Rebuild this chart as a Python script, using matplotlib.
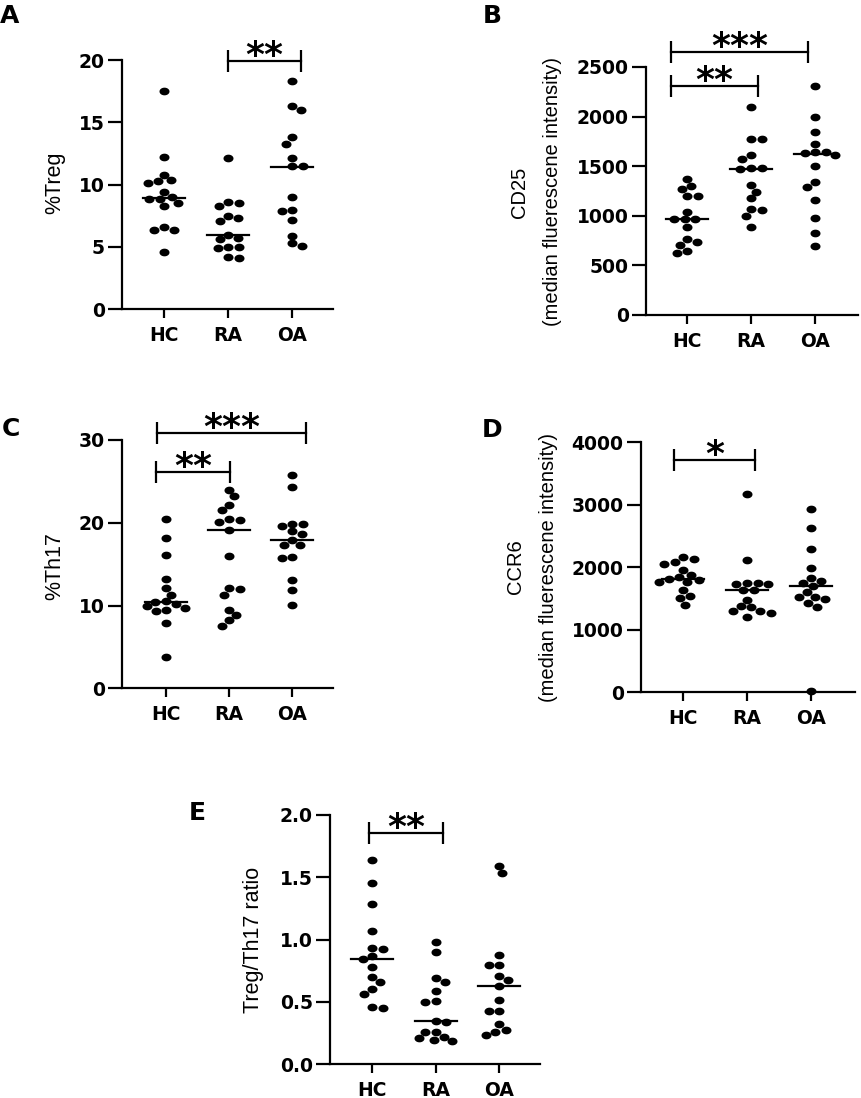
import numpy as np
import matplotlib
matplotlib.use('Agg')
import matplotlib.pyplot as plt
from matplotlib.path import Path

# ---------------- data ----------------
groups = ['HC', 'RA', 'OA']

treg_hc = [17.5, 12.2, 10.8, 10.35, 10.3, 10.1, 9.4, 9.0, 8.85, 8.85, 8.5, 8.3, 6.6, 6.4, 6.4, 4.6]
treg_ra = [12.1, 8.58, 8.5, 8.31, 7.5, 7.3, 7.1, 5.96, 5.7, 5.6, 5.02, 4.97, 4.89, 4.17, 4.09]
treg_oa = [18.3, 16.3, 16.0, 13.8, 13.3, 12.1, 11.5, 11.5, 9.0, 8.0, 7.9, 7.2, 5.9, 5.3, 5.1]
treg_median = [8.9, 5.96, 11.44]

cd25_hc = [1368, 1300, 1267, 1199, 1199, 1041, 968, 968, 968, 884, 763, 733, 705, 648, 622]
cd25_ra = [2100, 1771, 1771, 1613, 1572, 1479, 1479, 1472, 1310, 1243, 1176, 1065, 1058, 998, 884]
cd25_oa = [2308, 1999, 1848, 1724, 1646, 1646, 1630, 1613, 1505, 1344, 1293, 1159, 981, 830, 695]
cd25_median = [968, 1476, 1620]

th17_hc = [20.5, 18.1, 16.1, 13.2, 12.1, 11.3, 10.5, 10.4, 10.2, 9.9, 9.7, 9.5, 9.3, 7.85, 3.8]
th17_ra = [24.0, 23.2, 22.2, 21.5, 20.4, 20.3, 20.1, 19.1, 16.0, 12.1, 12.0, 11.3, 9.5, 8.85, 8.2, 7.5]
th17_oa = [25.8, 24.35, 19.9, 19.85, 19.6, 19.0, 18.7, 17.9, 17.3, 17.3, 15.9, 15.7, 13.1, 11.9, 10.1]
th17_median = [10.39, 19.13, 17.9]

ccr6_hc = [2160, 2128, 2090, 2060, 1957, 1877, 1850, 1813, 1797, 1770, 1770, 1637, 1546, 1504, 1397]
ccr6_ra = [3168, 2117, 1750, 1744, 1735, 1728, 1640, 1633, 1477, 1381, 1360, 1301, 1301, 1270, 1210]
ccr6_oa = [2928, 2624, 2293, 1994, 1824, 1781, 1744, 1701, 1600, 1520, 1520, 1488, 1434, 1370, 20]
ccr6_median = [1810, 1630, 1700]

ratio_hc = [1.639, 1.452, 1.286, 1.072, 0.931, 0.923, 0.869, 0.845, 0.783, 0.703, 0.663, 0.604, 0.564, 0.46, 0.45]
ratio_ra = [0.984, 0.898, 0.69, 0.663, 0.59, 0.51, 0.50, 0.35, 0.343, 0.26, 0.26, 0.22, 0.21, 0.195, 0.187]
ratio_oa = [1.594, 1.537, 0.877, 0.797, 0.797, 0.711, 0.676, 0.631, 0.516, 0.428, 0.428, 0.323, 0.275, 0.262, 0.235]
ratio_median = [0.845, 0.35, 0.631]

# significance brackets: (start, end, level, label)
sig_a = [(0.995, 2.136, 19.94, '**')]
sig_b = [(-0.255, 1.89, 2648, '***'), (-0.255, 1.105, 2312, '**')]
sig_c = [(-0.138, 2.22, 30.87, '***'), (-0.16, 1.016, 26.16, '**')]
sig_d = [(-0.146, 1.126, 3717, '*')]
sig_e = [(-0.047, 1.109, 1.853, '**')]

ticks_a = [0, 5, 10, 15, 20]
ticks_b = [0, 500, 1000, 1500, 2000, 2500]
ticks_c = [0, 10, 20, 30]
ticks_d = [0, 1000, 2000, 3000, 4000]
ticks_e = [0.0, 0.5, 1.0, 1.5, 2.0]

# ---------------- figure ----------------
W, H = 861, 1098
fig = plt.figure(figsize=(W / 100, H / 100), dpi=100)
plt.rcParams['font.family'] = ['DejaVu Sans']

theta = np.linspace(0, 2 * np.pi, 60)
ell = Path(np.column_stack([1.3 * np.cos(theta), np.sin(theta)]), closed=True)

LW = 1.6


def swarm_offsets(vals, ppy, ppx, mw=10.6, mh=7.4):
    """Simple beeswarm in pixel space; returns x offsets in data units."""
    vals = np.asarray(vals, float)
    order = np.argsort(-vals, kind='stable')
    ypx = vals * ppy
    offs = np.zeros(len(vals))
    placed = []
    side = 1.0
    for idx in order:
        y = ypx[idx]
        cands = [0.0]
        for (px, py) in placed:
            dy = abs(y - py)
            if dy < mh:
                dx = mw * np.sqrt(1 - (dy / mh) ** 2)
                cands += [px + dx + 0.01, px - dx - 0.01]
        valid = [c for c in cands
                 if all(((c - px) / mw) ** 2 + ((y - py) / mh) ** 2 >= 0.999 for px, py in placed)]
        best = min(valid, key=lambda c: (round(abs(c), 2), -side * c))
        if best != 0:
            side = -np.sign(best)
        offs[idx] = best / ppx
        placed.append((best, y))
    return offs


def panel(px_left, px_right, px_top, px_bottom, hc_px, step_px, series, medians,
          ymax, yticks, fmt, sigs):
    rect = [px_left / W, 1 - px_bottom / H, (px_right - px_left) / W, (px_bottom - px_top) / H]
    ax = fig.add_axes(rect)
    x0 = (px_left - hc_px) / step_px
    x1 = (px_right - hc_px) / step_px
    ax.set_xlim(x0, x1)
    ax.set_ylim(0, ymax)
    ppx = step_px
    ppy = (px_bottom - px_top) / ymax
    for i, vals in enumerate(series):
        offs = swarm_offsets(vals, ppy, ppx)
        ax.plot(i + offs, vals, ls='none', marker=ell, ms=7.2, color='black',
                mec='black', mew=0, clip_on=False, zorder=3)
        ax.plot([i - 0.33, i + 0.33], [medians[i], medians[i]], color='black', lw=LW, zorder=4)
    for (a, b, lev, lab) in sigs:
        ax.plot([a, b], [lev, lev], color='black', lw=LW, clip_on=False)
        ax.plot([a, b], [lev, lev], ls='none', marker='|', ms=15.5, mew=LW, color='black', clip_on=False)
        ax.annotate(lab, xy=((a + b) / 2, lev), xytext=(0, -3.5), textcoords='offset points',
                    ha='center', va='baseline', fontsize=26, fontweight='bold',
                    annotation_clip=False)
    for s in ['top', 'right']:
        ax.spines[s].set_visible(False)
    for s in ['left', 'bottom']:
        ax.spines[s].set_linewidth(LW)
    ax.set_xticks(range(3))
    ax.set_xticklabels(groups)
    ax.set_yticks(yticks)
    ax.set_yticklabels([fmt.format(t) for t in yticks])
    ax.tick_params(axis='y', length=10, width=LW, pad=2.5, labelsize=13.5)
    ax.tick_params(axis='x', length=6.5, width=LW, pad=5.5, labelsize=13.5)
    for lbl in ax.get_xticklabels() + ax.get_yticklabels():
        lbl.set_fontweight('bold')
    return ax


panel(122, 333, 60, 309.3, 164, 64, [treg_hc, treg_ra, treg_oa], treg_median,
      20, ticks_a, '{:d}', sig_a)
panel(646, 858, 67, 315, 687, 64, [cd25_hc, cd25_ra, cd25_oa], cd25_median,
      2500, ticks_b, '{:d}', sig_b)
panel(122, 333, 440, 688.3, 166, 63, [th17_hc, th17_ra, th17_oa], th17_median,
      30, ticks_c, '{:d}', sig_c)
panel(641, 855, 442.3, 692.3, 683.3, 63.7, [ccr6_hc, ccr6_ra, ccr6_oa], ccr6_median,
      4000, ticks_d, '{:d}', sig_d)
panel(330, 540, 815, 1064.3, 372.3, 63.5, [ratio_hc, ratio_ra, ratio_oa], ratio_median,
      2.0, ticks_e, '{:.1f}', sig_e)

lab_font = ['Liberation Sans', 'DejaVu Sans']


def ftext(xp, yp, s, **kw):
    fig.text(xp / W, 1 - yp / H, s, **kw)


ftext(55, 183, '%Treg', rotation=90, ha='center', va='center', fontsize=15.5, family=lab_font)
ftext(55, 566, '%Th17', rotation=90, ha='center', va='center', fontsize=15.5, family=lab_font)
ftext(254, 940, 'Treg/Th17 ratio', rotation=90, ha='center', va='center', fontsize=15.5, family=lab_font)
ftext(519, 192, 'CD25', rotation=90, ha='center', va='center', fontsize=14.5, family=lab_font)
ftext(552, 192, '(median fluerescene intensity)', rotation=90, ha='center', va='center',
      fontsize=14.5, family=lab_font)
ftext(515, 567, 'CCR6', rotation=90, ha='center', va='center', fontsize=14.5, family=lab_font)
ftext(549, 567, '(median fluerescene intensity)', rotation=90, ha='center', va='center',
      fontsize=14.5, family=lab_font)

for (xp, yp, s) in [(10, 16, 'A'), (492, 16, 'B'), (11, 429, 'C'), (492, 430, 'D'), (197, 813, 'E')]:
    ftext(xp, yp, s, ha='center', va='center', fontsize=18, fontweight='bold')

fig.savefig('out.png', dpi=100)
